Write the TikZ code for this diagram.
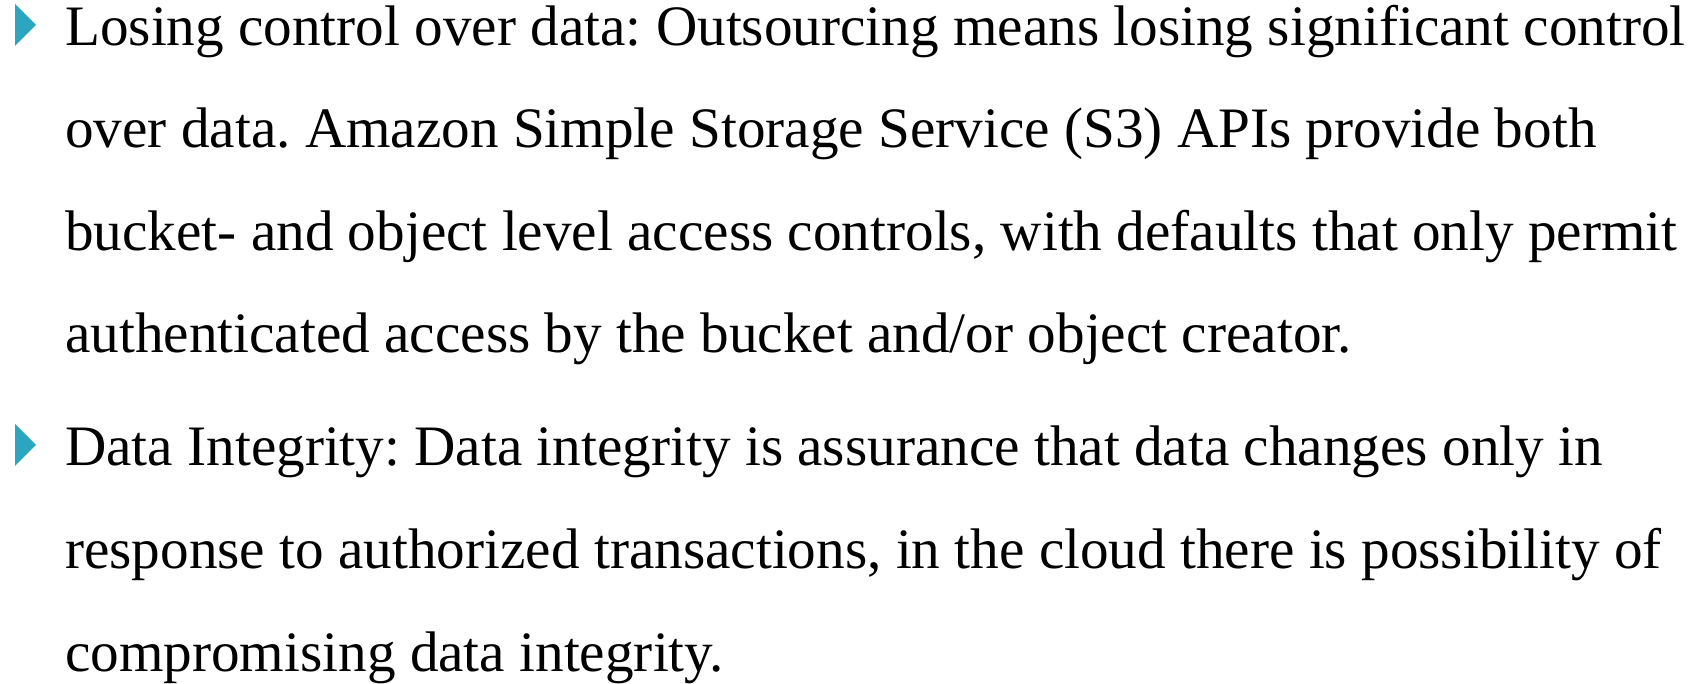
\documentclass[tikz,border=0pt]{standalone}
\usepackage{fontspec}
\setmainfont{Liberation Serif}
\definecolor{bulletteal}{HTML}{2CA5C0}
\frenchspacing
\begin{document}
\begin{tikzpicture}[x=1pt,y=1pt,
  txt/.style={anchor=base west,inner sep=0pt,font=\fontsize{57.2}{68}\selectfont},
  tri/.style={fill=bulletteal,draw=none}]
\useasboundingbox (0,0) rectangle (1703,684);
% bullets
\fill[tri] (15,680) -- (36,659) -- (15,638) -- cycle;
\fill[tri] (15,260) -- (36,239) -- (15,218) -- cycle;
% first item
\node[txt] (l1) at (65,638) {Losing control over data: Outsourcing means losing significant control};
\node[txt] (l2) at (65,536) {over data. Amazon Simple Storage Service (S3) APIs provide both};
\node[txt] (l3) at (65,433) {bucket- and object level access controls, with defaults that only permit};
\node[txt] (l4) at (65,331) {authenticated access by the bucket and/or object creator.};
% second item
\node[txt] (l5) at (65,218) {Data Integrity: Data integrity is assurance that data changes only in};
\node[txt] (l6) at (65,115) {response to authorized transactions, in the cloud there is possibility of};
\node[txt] (l7) at (65,12) {compromising data integrity.};
\end{tikzpicture}
\end{document}
